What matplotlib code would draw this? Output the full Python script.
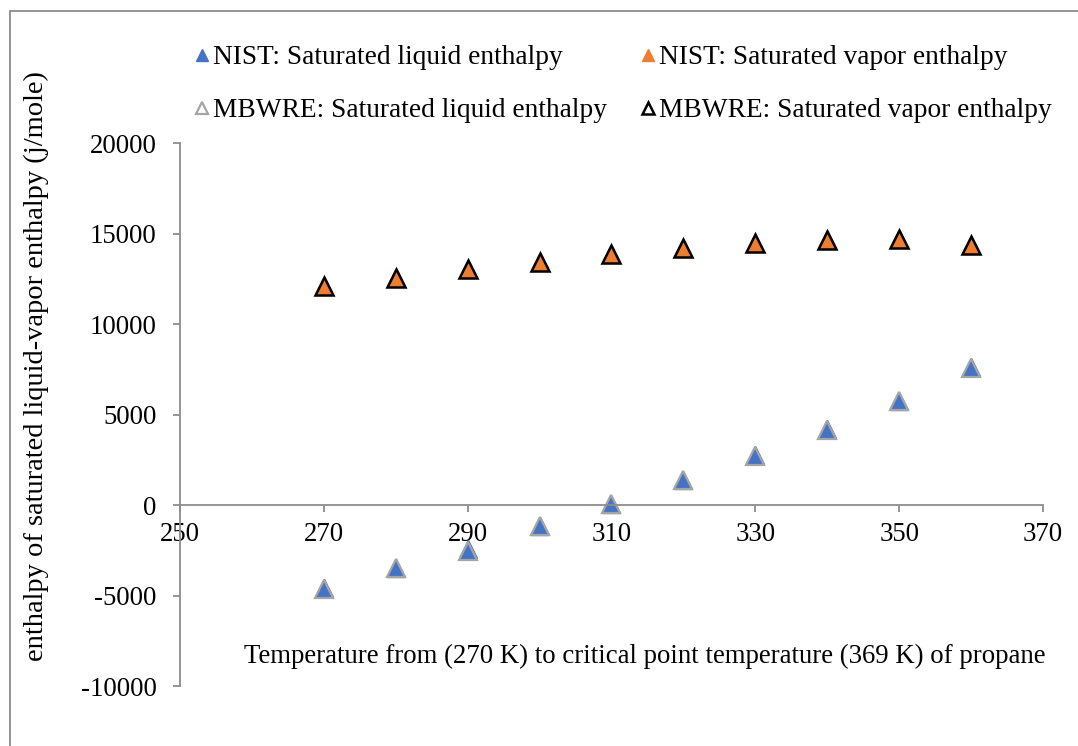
import numpy as np
import matplotlib.pyplot as plt
from matplotlib.patches import Rectangle

plt.rcParams['font.family'] = ['Liberation Serif', 'DejaVu Serif']
plt.rcParams['axes.unicode_minus'] = False

# Saturated enthalpy of propane (j/mole) against temperature (K)
temp = [270, 280, 290, 300, 310, 320, 330, 340, 350, 360]
nist_liquid = [-4600, -3470, -2430, -1150, 50, 1380, 2740, 4180, 5750, 7600]
nist_vapor = [12100, 12570, 13040, 13450, 13870, 14200, 14480, 14670, 14700, 14380]
mbwre_liquid = [-4650, -3500, -2560, -1170, 30, 1360, 2720, 4170, 5740, 7590]
mbwre_vapor = [12080, 12560, 13030, 13440, 13860, 14190, 14470, 14660, 14690, 14370]

xticks = [250, 270, 290, 310, 330, 350, 370]
yticks = [-10000, -5000, 0, 5000, 10000, 15000, 20000]

fs = 19.3

fig = plt.figure(figsize=(10.78, 7.46), dpi=100)
ax = fig.add_axes([0.167, 0.0804, 0.8005, 0.7279])

ms = 13.5
ax.plot(temp, nist_liquid, '^', ms=ms, color='#4472C4', mec='#4472C4', mew=1,
        label='NIST: Saturated liquid enthalpy')
ax.plot(temp, mbwre_liquid, '^', ms=ms, mfc='none', mec='#A5A5A5', mew=1.6,
        label='MBWRE: Saturated liquid enthalpy')
ax.plot(temp, nist_vapor, '^', ms=ms, color='#ED7D31', mec='#ED7D31', mew=1,
        label='NIST: Saturated vapor enthalpy')
ax.plot(temp, mbwre_vapor, '^', ms=ms, mfc='none', mec='black', mew=1.8,
        label='MBWRE: Saturated vapor enthalpy')

ax.set_xlim(250, 370)
ax.set_ylim(-10000, 20000)
ax.set_xticks(xticks)
ax.set_yticks(yticks)

axis_color = '#8C8C8C'
ax.spines['top'].set_visible(False)
ax.spines['right'].set_visible(False)
ax.spines['bottom'].set_position(('data', 0))
for s in ('left', 'bottom'):
    ax.spines[s].set_color(axis_color)
    ax.spines[s].set_linewidth(1.3)
ax.tick_params(axis='both', colors=axis_color, labelcolor='black',
               direction='out', length=5, width=1.3, labelsize=fs)
ax.tick_params(axis='x', pad=7)
ax.tick_params(axis='y', pad=12)

fig.text(645 / 1078, 1 - 656 / 746,
         'Temperature from (270 K) to critical point temperature (369 K) of propane',
         ha='center', va='center', fontsize=fs)
fig.text(36 / 1078, 1 - 366 / 746,
         'enthalpy of saturated liquid-vapor enthalpy (j/mole)',
         ha='center', va='center', rotation=90, fontsize=20.5)

fig.legend(loc='upper left', bbox_to_anchor=(194 / 1078, 1 - 45 / 746), ncol=2,
           frameon=False, fontsize=19.7, markerscale=0.65, handlelength=0.55,
           handletextpad=0.15, columnspacing=1.2, labelspacing=1.02,
           borderpad=0, borderaxespad=0)

# chart area border
fig.patches.append(Rectangle((10 / 1078, -0.1), 1.2, 1 - 11 / 746 + 0.1,
                             transform=fig.transFigure, fill=False,
                             edgecolor='#8C8C8C', linewidth=1.3))

fig.savefig('out.png', dpi=100)
